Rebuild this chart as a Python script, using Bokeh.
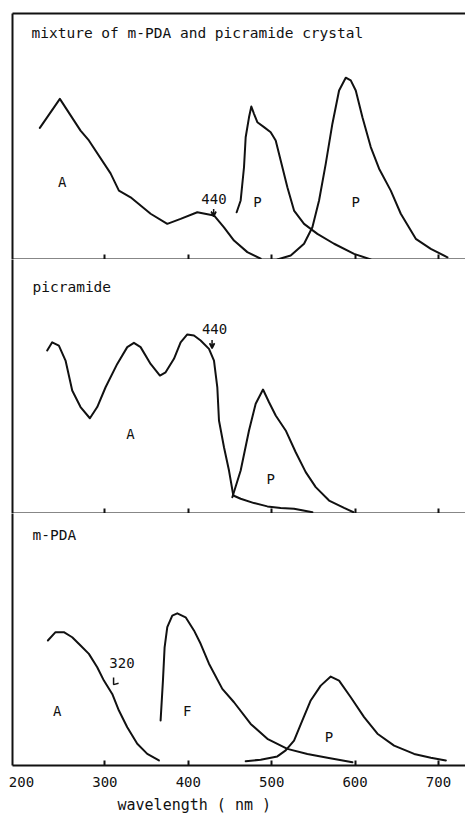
from bokeh.plotting import figure
from bokeh.layouts import column
from bokeh.models import Range1d, FixedTicker, Label, LinearAxis, Arrow, VeeHead, Title
from bokeh.embed import file_html
from bokeh.resources import INLINE

FONT = "DejaVu Sans Mono"
INK = "#111111"

# ---------------- data (wavelength nm, relative intensity 0-100) ----------------
# Panel 1: mixture of m-PDA and picramide crystal
MIX_A_WL = [222, 246, 270.8, 280.8, 306.8, 316.8, 330.8, 354.8, 374.8, 390.8, 410.8, 430.8, 442.8, 454.8, 470.8, 486.8]
MIX_A_I = [53.5, 65.3, 52.4, 48.4, 35, 28, 25.3, 18.6, 14.5, 16.5, 19.2, 17.9, 13.1, 7.7, 3, 0.3]
MIX_P1_WL = [458, 462.8, 466.8, 468.8, 472.8, 475.6, 478.8, 482.8, 490.8, 498.8, 504.8, 510.8, 518.8, 526.8, 538.8, 554.8, 574.8, 598.8, 618.8]
MIX_P1_I = [19.2, 24, 37.5, 49.7, 57.8, 62.2, 59.2, 55.8, 53.8, 51.7, 48.4, 40.2, 29.4, 19.9, 14.5, 10.4, 6.4, 2.3, 0]
MIX_P2_WL = [506.8, 522.8, 538.8, 548.8, 556.8, 564.8, 572.8, 580.8, 588.8, 594.8, 600.8, 608.8, 618.8, 628.8, 642.8, 654.8, 672.8, 690.8, 710.8]
MIX_P2_I = [0, 1.6, 6.4, 13.1, 24, 38.9, 55.2, 68.7, 73.9, 72.8, 68.7, 57.8, 45.7, 36.9, 28, 18.6, 8.4, 4.3, 0.9]

# Panel 2: picramide
PIC_A_WL = [230.8, 236.8, 244.8, 252.8, 260.8, 270.8, 282, 290.8, 300.8, 314.8, 326.8, 334.8, 342.8, 354.8, 366, 372.8,
            382.8, 390.8, 398.8, 406.8, 414.8, 424.8, 430.8, 434.8, 436.8, 442.8, 448.8, 454, 462.8, 478.8, 494.8,
            510.8, 526.8, 548.8]
PIC_A_I = [64.2, 67.4, 66.1, 60.2, 48.4, 41.9, 37.5, 41.9, 49.7, 58.9, 65.5, 67.2, 65.5, 58.9, 54.3, 55.6,
           60.9, 67.4, 70.5, 70.1, 68.1, 64.8, 60.2, 49.7, 36.6, 26.1, 16.9, 7.1, 5.8, 4.1, 2.8,
           2.2, 1.9, 0.5]
PIC_P_WL = [452.8, 462.8, 472.8, 480.8, 489.6, 496.8, 504.8, 516.8, 528.8, 540.8, 552.8, 568.8, 586.8, 598]
PIC_P_I = [6.4, 16.9, 32.7, 43.2, 48.8, 43.8, 38.6, 32.7, 24.1, 16.3, 10.4, 5.1, 2.2, 0.5]

# Panel 3: m-PDA
PDA_A_WL = [231.6, 240.8, 250.8, 260.8, 270.8, 280.8, 290.8, 298.8, 308.8, 316.8, 326.8, 338.8, 350.8, 364.8]
PDA_A_I = [49.6, 52.9, 52.9, 50.9, 47.6, 44.3, 39, 33.7, 28.4, 21.8, 15.2, 8.6, 4.6, 2]
PDA_F_WL = [366.8, 369.6, 371.6, 374.8, 380.8, 386.8, 396.8, 406.8, 414.8, 424.8, 440.8, 454.8, 474.8, 494.8, 518.8, 542.8, 566.8, 596.8]
PDA_F_I = [17.9, 33.7, 46.9, 54.9, 59.5, 60.4, 58.8, 53.6, 48.3, 40.4, 30.4, 25.1, 16.5, 10.6, 6.6, 4.6, 3.1, 1.3]
PDA_P_WL = [468.8, 486.8, 506.8, 516.8, 526.8, 536.8, 546.8, 558.8, 570.8, 580.8, 594.8, 610.8, 626.8, 646.8, 670.8, 690.8, 708.8]
PDA_P_I = [1.7, 2.3, 3.6, 6, 9.9, 17.9, 25.8, 31.7, 35.3, 33.7, 27.1, 19.2, 12.6, 7.9, 4.6, 3.1, 2]

X_TICK_MARKS = [300, 400, 500, 600, 700]
X_TICK_LABELS = [200, 300, 400, 500, 600, 700]
PANEL_TITLES = ["mixture of m-PDA and picramide crystal", "picramide", "m-PDA"]
X_LABEL = "wavelength ( nm )"

X_START, X_END = 189.2, 732.4
FRAME_W = 453


def make_panel(frame_h, top_border, bottom, label_ticks):
    p = figure(frame_width=FRAME_W, frame_height=frame_h,
               x_range=Range1d(X_START, X_END), y_range=Range1d(0, 100),
               output_backend="svg", toolbar_location=None,
               min_border_left=12, min_border_right=0,
               min_border_top=top_border, min_border_bottom=bottom,
               outline_line_color=None, background_fill_color="white",
               border_fill_color="white")
    p.grid.visible = False
    # left border line
    p.yaxis.ticker = FixedTicker(ticks=[], minor_ticks=[])
    p.yaxis.axis_line_width = 2
    p.yaxis.axis_line_color = INK
    p.yaxis.major_label_standoff = 0
    p.yaxis.major_tick_in = 0
    p.yaxis.major_tick_out = 0
    p.yaxis.minor_tick_in = 0
    p.yaxis.minor_tick_out = 0
    # baseline with inward tick marks (minor ticks carry no labels)
    p.xaxis.ticker = FixedTicker(ticks=label_ticks, minor_ticks=X_TICK_MARKS)
    p.xaxis.axis_line_width = 2
    p.xaxis.axis_line_color = INK
    p.xaxis.major_tick_in = 0
    p.xaxis.major_tick_out = 0
    p.xaxis.minor_tick_in = 5
    p.xaxis.minor_tick_out = 0
    p.xaxis.minor_tick_line_color = INK
    p.xaxis.minor_tick_line_width = 2
    p.xaxis.major_label_standoff = 0
    return p


def curve(p, xs, ys):
    p.line(xs, ys, line_width=2, line_color=INK, line_join="round", line_cap="round")


def txt(p, x, y, s, size="14px", align="center"):
    p.add_layout(Label(x=x, y=y, text=s, text_font=FONT, text_font_size=size,
                       text_color=INK, text_align=align, text_baseline="middle"))


def pointer(p, x0, y0, x1, y1):
    p.add_layout(Arrow(x_start=x0, y_start=y0, x_end=x1, y_end=y1, line_width=1.5,
                       line_color=INK, end=VeeHead(size=5, line_color=INK, line_width=1.5)))


# ---------- panel 1 ----------
p1 = make_panel(246, 13, 0, [])
top = LinearAxis(ticker=FixedTicker(ticks=[], minor_ticks=[]), axis_line_width=2, axis_line_color=INK,
                 major_tick_in=0, major_tick_out=0, minor_tick_in=0, minor_tick_out=0,
                 major_label_standoff=0)
p1.add_layout(top, "above")
curve(p1, MIX_A_WL, MIX_A_I)
curve(p1, MIX_P1_WL, MIX_P1_I)
curve(p1, MIX_P2_WL, MIX_P2_I)
txt(p1, 212, 91.9, PANEL_TITLES[0], size="14.5px", align="left")
txt(p1, 248.8, 31.4, "A")
txt(p1, 482.8, 23.3, "P")
txt(p1, 600.8, 23.3, "P")
txt(p1, 430.8, 24.5, "440")
pointer(p1, 430.4, 20.5, 430.4, 17.4)

# ---------- panel 2 ----------
p2 = make_panel(254, 0, 0, [])
curve(p2, PIC_A_WL, PIC_A_I)
curve(p2, PIC_P_WL, PIC_P_I)
txt(p2, 213.2, 89, PANEL_TITLES[1], size="14.5px", align="left")
txt(p2, 330.8, 31.4, "A")
txt(p2, 498.8, 13.7, "P")
txt(p2, 431.5, 72.5, "440")
pointer(p2, 428.5, 68.3, 428.5, 65.0)

# ---------- panel 3 ----------
p3 = make_panel(252, 0, 0, X_TICK_LABELS)
p3.xaxis.major_label_text_font = FONT
p3.xaxis.major_label_text_font_size = "14px"
p3.xaxis.major_label_text_color = INK
p3.xaxis.major_label_standoff = 11
curve(p3, PDA_A_WL, PDA_A_I)
curve(p3, PDA_F_WL, PDA_F_I)
curve(p3, PDA_P_WL, PDA_P_I)
txt(p3, 213.2, 91.3, PANEL_TITLES[2], size="14.5px", align="left")
txt(p3, 242.8, 21.8, "A")
txt(p3, 398.8, 21.8, "F")
txt(p3, 568.8, 11.5, "P")
txt(p3, 320.5, 40.5, "320")
p3.line([310.4, 310.4, 316.4], [34.9, 32.1, 32.6], line_width=1.5, line_color=INK)
p3.add_layout(Title(text=X_LABEL, align="left", offset=105, text_font=FONT,
                    text_font_size="15px", text_font_style="normal", text_color=INK,
                    standoff=9), "below")

layout = column(p1, p2, p3, spacing=0)

with open("out.html", "w") as f:
    f.write(file_html(layout, INLINE))
